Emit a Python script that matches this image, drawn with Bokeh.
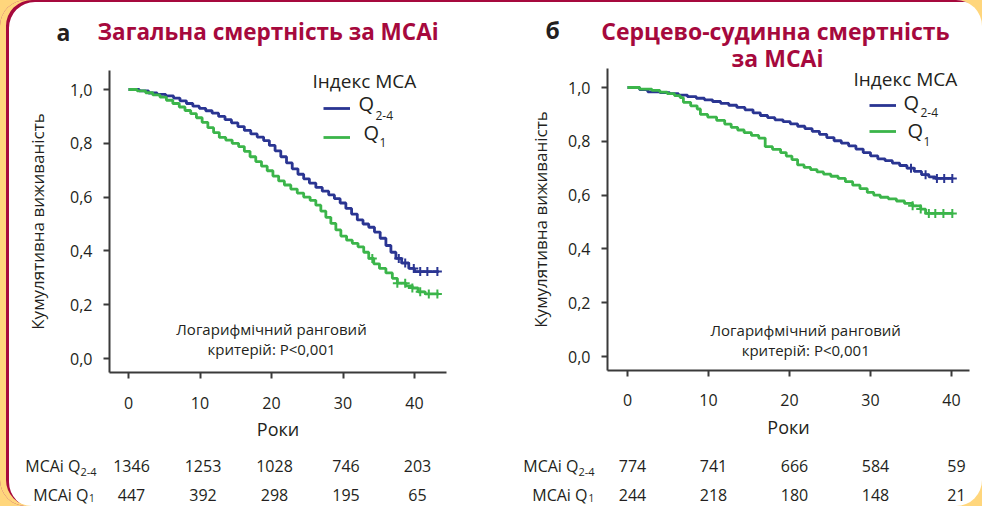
import numpy as np
from bokeh.plotting import figure
from bokeh.models import (Range1d, FixedTicker, Label, LabelSet, ColumnDataSource,
                          Legend, LegendItem, LinearAxis)
from bokeh.layouts import row, column
from bokeh.embed import file_html
from bokeh.resources import INLINE
from bokeh.core.properties import value

# ---------------- data ----------------
year_ticks = [0, 10, 20, 30, 40]
surv_ticks = [0.0, 0.2, 0.4, 0.6, 0.8, 1.0]
surv_tick_labels = ["0,0", "0,2", "0,4", "0,6", "0,8", "1,0"]
risk_times = [0, 10, 20, 30, 40]

# panel a: all-cause mortality
a_q24_t = [0, 1.5, 2.8, 4.0, 5.2, 6.3, 7.2, 8.1, 9.0, 9.9, 10.8, 11.7, 12.6, 13.5, 14.4,
           15.3, 16.2, 17.1, 18.0, 18.9, 19.7, 20.5, 21.3, 22.1, 22.9, 23.7, 24.5, 25.3,
           26.2, 27.1, 28.0, 28.8, 29.6, 30.4, 31.2, 32.0, 32.8, 33.6, 34.4, 35.2, 36.0,
           36.7, 37.4, 38.2, 39.2, 40.0, 43.4]
a_q24_s = [1.000, 0.995, 0.987, 0.982, 0.976, 0.968, 0.958, 0.948, 0.938, 0.930, 0.921,
           0.912, 0.900, 0.888, 0.876, 0.862, 0.848, 0.835, 0.823, 0.810, 0.792, 0.772,
           0.750, 0.727, 0.705, 0.685, 0.668, 0.652, 0.636, 0.622, 0.608, 0.594, 0.578,
           0.558, 0.537, 0.515, 0.500, 0.488, 0.470, 0.447, 0.420, 0.395, 0.372, 0.355,
           0.335, 0.323, 0.323]
a_q1_t = [0, 1.2, 2.4, 3.4, 4.4, 5.3, 6.2, 7.1, 7.9, 8.7, 9.5, 10.3, 11.1, 11.9, 12.7,
          13.6, 14.5, 15.4, 16.2, 17.0, 17.8, 18.6, 19.4, 20.2, 21.0, 21.8, 22.7, 23.6,
          24.5, 25.4, 26.2, 26.9, 27.6, 28.3, 29.0, 29.7, 30.5, 31.3, 32.1, 32.9, 33.6,
          34.3, 35.1, 36.0, 36.9, 37.6, 38.8, 39.7, 40.5, 41.5, 43.4]
a_q1_s = [1.000, 0.995, 0.988, 0.980, 0.972, 0.960, 0.948, 0.935, 0.922, 0.910, 0.895,
          0.878, 0.858, 0.840, 0.822, 0.812, 0.800, 0.788, 0.770, 0.750, 0.732, 0.715,
          0.698, 0.678, 0.660, 0.645, 0.630, 0.615, 0.600, 0.588, 0.570, 0.548, 0.525,
          0.502, 0.478, 0.455, 0.440, 0.428, 0.415, 0.395, 0.372, 0.352, 0.335, 0.318,
          0.298, 0.280, 0.270, 0.262, 0.248, 0.240, 0.240]
a_q24_cens = [37.8, 38.7, 39.9, 40.8, 41.8, 43.2]
a_q1_cens = [34.1, 37.6, 38.7, 39.7, 40.8, 42.0, 43.2]
a_risk_q24 = [1346, 1253, 1028, 746, 203]
a_risk_q1 = [447, 392, 298, 195, 65]

# panel б: cardiovascular mortality
b_q24_t = [0, 1.5, 2.5, 4.0, 5.2, 6.3, 7.4, 8.5, 9.5, 10.5, 11.5, 12.5, 13.5, 14.5, 15.5,
           16.4, 17.3, 18.2, 19.2, 20.1, 21.0, 21.9, 22.8, 23.7, 24.6, 25.5, 26.4, 27.3,
           28.2, 29.1, 30.0, 30.9, 31.8, 32.7, 33.6, 34.5, 35.4, 36.3, 37.2, 38.0, 40.2]
b_q24_s = [1.000, 0.992, 0.984, 0.981, 0.977, 0.972, 0.966, 0.960, 0.954, 0.948, 0.941,
           0.934, 0.926, 0.917, 0.906, 0.896, 0.888, 0.880, 0.873, 0.865, 0.856, 0.847,
           0.837, 0.826, 0.814, 0.802, 0.793, 0.783, 0.771, 0.758, 0.746, 0.735, 0.728,
           0.719, 0.710, 0.700, 0.688, 0.676, 0.668, 0.662, 0.662]
b_q1_t = [0, 1.5, 3.0, 4.0, 4.9, 5.8, 6.5, 6.9, 7.8, 8.6, 9.0, 9.9, 11.0, 12.0, 12.8,
          13.6, 14.4, 15.3, 16.2, 17.0, 17.9, 18.9, 19.6, 20.3, 21.0, 21.8, 22.6, 23.4,
          24.2, 25.1, 26.0, 26.9, 27.8, 28.7, 29.6, 30.4, 31.2, 32.2, 33.2, 34.2, 35.2,
          36.2, 36.8, 40.2]
b_q1_s = [1.000, 0.994, 0.989, 0.983, 0.977, 0.970, 0.962, 0.945, 0.932, 0.920, 0.900,
          0.890, 0.878, 0.864, 0.852, 0.842, 0.832, 0.822, 0.812, 0.780, 0.770, 0.758,
          0.745, 0.732, 0.712, 0.703, 0.695, 0.686, 0.678, 0.670, 0.662, 0.650, 0.637,
          0.624, 0.610, 0.600, 0.592, 0.586, 0.578, 0.569, 0.560, 0.548, 0.532, 0.532]
b_q24_cens = [35.0, 36.8, 38.2, 39.1, 40.1]
b_q1_cens = [35.2, 36.2, 37.2, 38.0, 39.0, 40.1]
b_risk_q24 = [774, 741, 666, 584, 59]
b_risk_q1 = [244, 218, 180, 148, 21]

# ---------------- style ----------------
FONT = "Open Sans"
TXT = "#231F20"
CRIMSON = "#A6093D"
BLUE = "#2A3592"
GREEN = "#3BB54A"
AXIS = "#3A3A3A"
W, H = 491, 506


def step_at(t, s, c):
    t = np.asarray(t); s = np.asarray(s); c = np.asarray(c)
    idx = np.searchsorted(t, c, side="right") - 1
    return s[idx]


def build(cfg):
    x0 = cfg["canvas_left"]
    p = figure(width=W, height=H, min_border=0, title=None,
               x_axis_location=None, y_axis_location=None,
               x_range=Range1d(*cfg["xr"]), y_range=Range1d(*cfg["yr"]),
               output_backend="svg", toolbar_location=None)
    p.background_fill_alpha = 0
    p.border_fill_alpha = 0
    p.outline_line_color = None
    p.grid.visible = False

    xa = LinearAxis(fixed_location=cfg["ybounds"][0], bounds=cfg["xbounds"],
                    ticker=FixedTicker(ticks=year_ticks), axis_label="Роки")
    ya = LinearAxis(fixed_location=cfg["xbounds"][0], bounds=cfg["ybounds"],
                    ticker=FixedTicker(ticks=surv_ticks),
                    axis_label="Кумулятивна виживаність",
                    major_label_overrides=dict(zip(surv_ticks, surv_tick_labels)))
    for ax in (xa, ya):
        ax.axis_line_width = 2
        ax.axis_line_color = AXIS
        ax.major_tick_line_width = 2
        ax.major_tick_line_color = AXIS
        ax.major_tick_in = 0
        ax.major_tick_out = 6
        ax.minor_tick_in = 0
        ax.minor_tick_out = 0
        ax.major_label_text_font = FONT
        ax.major_label_text_font_size = "16px"
        ax.major_label_text_color = TXT
        ax.axis_label_text_font = FONT
        ax.axis_label_text_font_style = "normal"
        ax.axis_label_text_color = TXT
    ya.major_label_standoff = 11
    ya.axis_label_standoff = cfg["ylab_standoff"]
    ya.axis_label_text_font_size = "17px"
    xa.major_label_standoff = 18
    xa.axis_label_standoff = 5
    xa.axis_label_text_font_size = "18px"
    p.add_layout(xa, "below")
    p.add_layout(ya, "left")

    r_b = p.step(cfg["q24_t"], cfg["q24_s"], mode="after", line_color=BLUE, line_width=2.8)
    r_g = p.step(cfg["q1_t"], cfg["q1_s"], mode="after", line_color=GREEN, line_width=2.8)
    p.scatter(cfg["q24_c"], step_at(cfg["q24_t"], cfg["q24_s"], cfg["q24_c"]),
              marker="cross", size=9, line_width=2, line_color=BLUE)
    p.scatter(cfg["q1_c"], step_at(cfg["q1_t"], cfg["q1_s"], cfg["q1_c"]),
              marker="cross", size=9, line_width=2, line_color=GREEN)

    lx, ltop, lbot = cfg["leg_box"]
    leg = Legend(items=[LegendItem(label=value(" "), renderers=[r_b]),
                        LegendItem(label=value(" "), renderers=[r_g])],
                 location=(lx - x0, H - lbot), glyph_width=27, glyph_height=20,
                 label_height=20, label_width=1, spacing=(lbot - ltop) - 40,
                 padding=0, margin=0, label_standoff=0, label_text_font_size="6px",
                 border_line_alpha=0, background_fill_alpha=0)
    p.add_layout(leg)

    def lbl(text, px, py, size, color=TXT, bold=False, align="left"):
        p.add_layout(Label(x=px - x0, y=H - py, x_units="screen", y_units="screen",
                           text=text, text_font=FONT, text_font_size=f"{size}px",
                           text_font_style="bold" if bold else "normal",
                           text_color=color, text_align=align, text_baseline="middle"))

    for item in cfg["labels"]:
        lbl(*item)

    # log-rank annotation (data coordinates)
    for txt, yy in zip(["Логарифмічний ранговий", "критерій: P<0,001"], cfg["note_y"]):
        p.add_layout(Label(x=cfg["note_x"], y=yy, text=txt, text_font=FONT,
                           text_font_size="15px", text_color=TXT,
                           text_align="center", text_baseline="middle"))

    # numbers at risk
    for counts, py in zip([cfg["risk_q24"], cfg["risk_q1"]], cfg["risk_py"]):
        src = ColumnDataSource(dict(t=risk_times, n=[str(v) for v in counts]))
        p.add_layout(LabelSet(x="t", y=H - py, y_units="screen", text="n", source=src,
                              x_offset=cfg["risk_dx"], text_font=value(FONT),
                              text_font_size="16px", text_color=TXT,
                              text_align="center", text_baseline="middle"))
    return p


cfg_a = dict(
    canvas_left=0,
    xr=(-128 / 7.15, (491 - 128) / 7.15), yr=((358 - 506) / 269, 358 / 269),
    xbounds=(-2.66, 44.47), ybounds=(-0.0521, 1.0706), ylab_standoff=18,
    q24_t=a_q24_t, q24_s=a_q24_s, q1_t=a_q1_t, q1_s=a_q1_s,
    q24_c=a_q24_cens, q1_c=a_q1_cens,
    leg_box=(323, 98, 147),
    note_x=20, note_y=[0.11, 0.037],
    risk_q24=a_risk_q24, risk_q1=a_risk_q1, risk_py=[465, 494], risk_dx=3,
    labels=[
        ("а", 56, 31, 23, TXT, True),
        ("Загальна смертність за MCAi", 97, 31, 22.5, CRIMSON, True),
        ("Індекс MCA", 312, 80, 19),
        ("Q", 358, 103, 20),
        ("2-4", 375, 115, 12),
        ("Q", 363, 132, 20),
        ("1", 379, 142, 12),
        ("MCAi Q", 80, 465, 16, TXT, False, "right"),
        ("2-4", 80, 471, 11),
        ("MCAi Q", 88, 494, 16, TXT, False, "right"),
        ("1", 88.5, 497.5, 10),
    ],
)

cfg_b = dict(
    canvas_left=491,
    xr=((491 - 627) / 8.1, (982 - 627) / 8.1), yr=((356 - 506) / 269, 356 / 269),
    xbounds=(-2.47, 42.2), ybounds=(-0.052, 1.0706), ylab_standoff=13,
    q24_t=b_q24_t, q24_s=b_q24_s, q1_t=b_q1_t, q1_s=b_q1_s,
    q24_c=b_q24_cens, q1_c=b_q1_cens,
    leg_box=(869, 95, 141),
    note_x=22, note_y=[0.10, 0.026],
    risk_q24=b_risk_q24, risk_q1=b_risk_q1, risk_py=[465, 494], risk_dx=5,
    labels=[
        ("б", 545, 29, 23, TXT, True),
        ("Серцево-судинна смертність", 775, 30, 23, CRIMSON, True, "center"),
        ("за MCAi", 777, 57, 23, CRIMSON, True, "center"),
        ("Індекс MCA", 853, 78, 19),
        ("Q", 903, 102, 20),
        ("2-4", 920, 112, 12),
        ("Q", 907, 130, 20),
        ("1", 923, 141, 12),
        ("MCAi Q", 578, 465, 16, TXT, False, "right"),
        ("2-4", 578, 471, 11),
        ("MCAi Q", 587, 494, 16, TXT, False, "right"),
        ("1", 588, 497.5, 10),
    ],
)

pa = build(cfg_a)
pb = build(cfg_b)

panel = row(pa, pb, styles={
    "background-color": "#ffffff",
    "border-radius": "26px",
    "box-shadow": "inset 6px 0 0 0 #FFD67C, inset 9px 2px 0 0 #A6093D",
})
page = column(panel, styles={"background-color": "#FFD67C"})

open("out.html", "w").write(file_html(page, INLINE))
